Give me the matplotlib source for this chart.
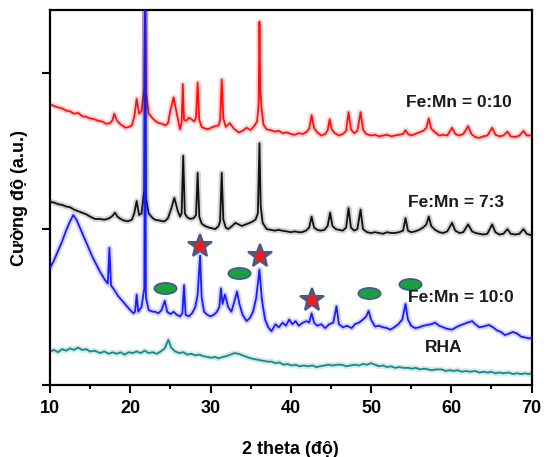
import numpy as np
import matplotlib
matplotlib.use("Agg")
import matplotlib.pyplot as plt
from matplotlib.path import Path
import matplotlib.transforms as mtrans

plt.rcParams['font.family'] = ['Liberation Sans', 'DejaVu Sans']
plt.rcParams['font.weight'] = 'bold'

# Fe:Mn = 0:10 (red)
red_x = [10.0, 10.5, 11.0, 11.5, 12.0, 12.5, 13.0, 13.5, 14.0, 14.5,
         15.0, 15.5, 16.0, 16.5, 17.0, 17.5, 17.8, 18.0, 18.3, 18.7,
         19.0, 19.4, 19.8, 20.2, 20.5, 20.8, 21.1, 21.4, 21.75, 21.85,
         21.95, 22.3, 22.8, 23.1, 23.5, 24.0, 24.4, 24.7, 25.0, 25.4,
         25.8, 26.2, 26.4, 26.55, 26.7, 27.0, 27.3, 27.6, 28.0, 28.2,
         28.4, 28.6, 28.9, 29.3, 29.7, 30.1, 30.6, 31.0, 31.2, 31.4,
         31.6, 31.9, 32.4, 32.9, 33.5, 34.0, 34.5, 35.0, 35.5, 35.8,
         36.0, 36.1, 36.2, 36.35, 36.6, 37.0, 37.5, 38.0, 38.5, 39.0,
         39.5, 40.0, 40.5, 41.0, 41.5, 42.0, 42.3, 42.6, 42.9, 43.3,
         43.8, 44.3, 44.6, 44.85, 45.1, 45.5, 46.0, 46.5, 46.9, 47.2,
         47.5, 47.9, 48.3, 48.7, 49.0, 49.4, 50.0, 50.5, 51.0, 51.5,
         52.0, 52.5, 53.0, 53.5, 54.0, 54.3, 54.6, 55.0, 55.5, 56.0,
         56.5, 56.9, 57.2, 57.5, 58.0, 58.5, 59.0, 59.5, 60.1, 60.5,
         61.0, 61.5, 62.1, 62.5, 63.0, 63.5, 64.0, 64.5, 65.1, 65.5,
         66.0, 66.5, 67.0, 67.4, 68.0, 68.5, 69.0, 69.4, 70.0]
red_y = [1.80, 1.79, 1.78, 1.775, 1.76, 1.755, 1.74, 1.745, 1.725, 1.72,
         1.71, 1.705, 1.695, 1.69, 1.675, 1.68, 1.70, 1.74, 1.70, 1.675,
         1.665, 1.65, 1.655, 1.665, 1.72, 1.835, 1.74, 1.76, 1.90, 2.60,
         1.88, 1.74, 1.71, 1.695, 1.68, 1.675, 1.665, 1.68, 1.76, 1.845,
         1.74, 1.64, 1.68, 1.93, 1.70, 1.695, 1.715, 1.705, 1.69, 1.72,
         1.94, 1.70, 1.655, 1.645, 1.64, 1.65, 1.66, 1.665, 1.70, 1.96,
         1.71, 1.655, 1.68, 1.645, 1.62, 1.63, 1.65, 1.635, 1.665, 1.69,
         1.80, 2.33, 1.90, 1.78, 1.67, 1.64, 1.635, 1.625, 1.63, 1.615,
         1.62, 1.61, 1.605, 1.615, 1.61, 1.625, 1.645, 1.73, 1.65, 1.62,
         1.60, 1.61, 1.635, 1.705, 1.64, 1.615, 1.60, 1.61, 1.63, 1.75,
         1.64, 1.615, 1.63, 1.75, 1.64, 1.61, 1.60, 1.605, 1.595, 1.60,
         1.605, 1.595, 1.60, 1.605, 1.61, 1.635, 1.61, 1.60, 1.61, 1.62,
         1.63, 1.65, 1.71, 1.645, 1.62, 1.60, 1.605, 1.60, 1.65, 1.61,
         1.60, 1.61, 1.66, 1.61, 1.59, 1.585, 1.595, 1.60, 1.65, 1.605,
         1.595, 1.60, 1.625, 1.595, 1.59, 1.60, 1.63, 1.60, 1.60]

# Fe:Mn = 7:3 (black)
black_x = [10.0, 10.5, 11.0, 11.5, 12.0, 12.5, 13.0, 13.5, 14.0, 14.5,
           15.0, 15.6, 16.2, 16.8, 17.4, 17.8, 18.1, 18.4, 18.8, 19.2,
           19.7, 20.2, 20.5, 20.8, 21.1, 21.4, 21.75, 21.85, 21.95, 22.3,
           22.8, 23.1, 23.6, 24.0, 24.3, 24.7, 25.1, 25.5, 25.9, 26.2,
           26.4, 26.6, 26.8, 27.1, 27.5, 27.9, 28.2, 28.4, 28.6, 28.9,
           29.3, 29.8, 30.2, 30.6, 31.0, 31.2, 31.4, 31.6, 31.9, 32.2,
           32.7, 33.1, 33.5, 33.9, 34.4, 34.9, 35.3, 35.6, 35.9, 36.1,
           36.25, 36.5, 37.0, 37.5, 38.0, 38.5, 38.9, 39.5, 40.0, 40.5,
           41.0, 41.4, 41.9, 42.3, 42.6, 42.9, 43.3, 43.7, 44.2, 44.6,
           44.9, 45.2, 45.6, 46.0, 46.5, 46.9, 47.2, 47.5, 47.9, 48.3,
           48.7, 49.0, 49.5, 50.0, 50.5, 51.0, 51.5, 52.0, 52.5, 53.0,
           53.5, 54.0, 54.3, 54.6, 55.0, 55.5, 56.0, 56.5, 56.9, 57.2,
           57.5, 58.0, 58.5, 59.0, 59.5, 60.1, 60.5, 61.0, 61.5, 62.1,
           62.6, 63.0, 63.5, 64.0, 64.5, 65.1, 65.5, 66.0, 66.5, 67.0,
           67.4, 68.0, 68.5, 69.0, 69.4, 70.0]
black_y = [1.175, 1.17, 1.16, 1.155, 1.145, 1.14, 1.125, 1.115, 1.105, 1.095,
           1.08, 1.065, 1.065, 1.06, 1.07, 1.085, 1.105, 1.08, 1.065, 1.055,
           1.05, 1.06, 1.10, 1.18, 1.09, 1.10, 1.25, 2.60, 1.20, 1.10,
           1.07, 1.06, 1.055, 1.05, 1.05, 1.07, 1.13, 1.20, 1.12, 1.08,
           1.10, 1.47, 1.10, 1.075, 1.065, 1.07, 1.09, 1.36, 1.08, 1.035,
           1.02, 1.01, 1.005, 1.0, 1.02, 1.05, 1.36, 1.06, 1.01, 1.0,
           1.02, 1.04, 1.03, 1.02, 1.03, 1.04, 1.05, 1.06, 1.10, 1.55,
           1.15, 1.04, 1.0, 0.995, 0.99, 0.995, 0.99, 0.985, 0.98, 0.985,
           0.98, 0.98, 0.99, 1.01, 1.08, 1.01, 0.995, 0.99, 0.995, 1.02,
           1.105, 1.02, 1.0, 0.995, 0.99, 1.01, 1.135, 1.01, 0.99, 1.0,
           1.125, 1.0, 0.98, 0.975, 0.98, 0.975, 0.97, 0.98, 0.975, 0.975,
           0.98, 0.99, 1.07, 0.99, 0.98, 0.985, 0.995, 1.01, 1.03, 1.08,
           1.02, 0.995, 0.98, 0.975, 0.985, 1.04, 0.99, 0.975, 0.98, 1.03,
           0.985, 0.975, 0.97, 0.965, 0.97, 1.03, 0.98, 0.965, 0.97, 1.0,
           0.97, 0.965, 0.97, 1.0, 0.97, 0.96]

# Fe:Mn = 10:0 (blue)
blue_x = [10.0, 10.5, 11.0, 11.5, 12.0, 12.5, 12.9, 13.3, 13.8, 14.3,
          14.8, 15.3, 15.8, 16.3, 16.9, 17.2, 17.4, 17.6, 18.0, 18.5,
          19.0, 19.5, 20.0, 20.4, 20.6, 20.8, 21.0, 21.4, 21.75, 21.85,
          21.95, 22.3, 22.8, 23.1, 23.5, 23.9, 24.3, 24.6, 25.0, 25.4,
          25.8, 26.2, 26.5, 26.7, 26.9, 27.3, 27.7, 28.1, 28.4, 28.7,
          28.9, 29.2, 29.6, 30.0, 30.4, 30.8, 31.1, 31.3, 31.5, 31.8,
          32.2, 32.6, 33.0, 33.3, 33.6, 34.0, 34.5, 34.9, 35.3, 35.7,
          36.1, 36.4, 36.8, 37.2, 37.6, 38.1, 38.5, 39.0, 39.4, 39.8,
          40.2, 40.6, 41.0, 41.5, 42.0, 42.3, 42.6, 42.9, 43.3, 43.8,
          44.3, 44.8, 45.3, 45.7, 46.0, 46.5, 47.0, 47.6, 48.0, 48.5,
          49.0, 49.4, 49.7, 50.0, 50.5, 51.0, 51.5, 52.0, 52.4, 52.9,
          53.4, 53.9, 54.3, 54.6, 55.0, 55.5, 56.0, 56.5, 57.0, 57.5,
          58.0, 58.5, 59.0, 59.5, 60.1, 60.6, 61.0, 61.5, 62.0, 62.6,
          63.0, 63.5, 64.0, 64.7, 65.2, 65.7, 66.2, 66.7, 67.2, 67.7,
          68.2, 68.7, 69.2, 69.6, 70.0]
blue_y = [0.75, 0.80, 0.86, 0.92, 0.99, 1.05, 1.09, 1.06, 1.00, 0.94,
          0.88, 0.82, 0.77, 0.72, 0.67, 0.65, 0.88, 0.64, 0.61, 0.57,
          0.54, 0.51, 0.48, 0.46, 0.47, 0.58, 0.47, 0.50, 0.62, 2.60,
          0.56, 0.48, 0.47, 0.47, 0.46, 0.48, 0.54, 0.47, 0.455, 0.47,
          0.45, 0.44, 0.46, 0.64, 0.45, 0.44, 0.46, 0.50, 0.58, 0.83,
          0.56, 0.47, 0.45, 0.44, 0.45, 0.47, 0.50, 0.62, 0.52, 0.58,
          0.50, 0.47, 0.54, 0.60, 0.52, 0.45, 0.41, 0.43, 0.47, 0.56,
          0.74, 0.55, 0.42, 0.37, 0.345, 0.39, 0.37, 0.40, 0.38, 0.42,
          0.39, 0.41, 0.38, 0.40, 0.41, 0.40, 0.46, 0.40, 0.38, 0.39,
          0.365, 0.39, 0.40, 0.505, 0.39, 0.37, 0.38, 0.365, 0.39, 0.40,
          0.42, 0.44, 0.475, 0.42, 0.375, 0.38, 0.37, 0.365, 0.355, 0.37,
          0.39, 0.42, 0.52, 0.42, 0.38, 0.365, 0.37, 0.38, 0.385, 0.39,
          0.40, 0.38, 0.37, 0.36, 0.355, 0.37, 0.38, 0.39, 0.40, 0.41,
          0.39, 0.37, 0.375, 0.385, 0.37, 0.35, 0.34, 0.32, 0.33, 0.34,
          0.33, 0.31, 0.305, 0.30, 0.30]

# RHA (teal)
rha_x = [10.0, 10.5, 11.0, 11.5, 12.0, 12.5, 13.0, 13.5, 14.0, 14.5,
         15.0, 15.6, 16.2, 16.8, 17.3, 17.8, 18.3, 18.8, 19.3, 19.8,
         20.3, 20.8, 21.3, 21.8, 22.3, 22.8, 23.3, 23.8, 24.3, 24.75,
         25.1, 25.6, 26.1, 26.6, 27.1, 27.6, 28.1, 28.6, 29.1, 29.6,
         30.1, 30.6, 31.0, 31.5, 32.0, 32.5, 33.0, 33.5, 34.0, 34.5,
         35.1, 35.6, 36.1, 36.6, 37.1, 37.6, 38.1, 38.6, 39.1, 39.6,
         40.1, 40.6, 41.1, 41.6, 42.2, 42.7, 43.2, 43.7, 44.2, 44.7,
         45.2, 45.8, 46.4, 46.9, 47.4, 48.0, 48.5, 49.0, 49.5, 50.0,
         50.5, 51.0, 51.5, 52.0, 52.5, 53.0, 53.5, 54.0, 54.6, 55.1,
         55.6, 56.1, 56.6, 57.1, 57.6, 58.1, 58.8, 59.3, 59.8, 60.3,
         60.8, 61.3, 61.8, 62.3, 63.0, 63.5, 64.0, 64.5, 65.0, 65.5,
         66.0, 66.5, 67.2, 67.7, 68.2, 68.7, 69.2, 69.6, 70.0]
rha_y = [0.215, 0.225, 0.21, 0.23, 0.22, 0.235, 0.225, 0.24, 0.225, 0.23,
         0.215, 0.22, 0.205, 0.215, 0.20, 0.21, 0.20, 0.21, 0.195, 0.21,
         0.205, 0.215, 0.205, 0.22, 0.205, 0.21, 0.20, 0.215, 0.235, 0.29,
         0.24, 0.215, 0.205, 0.21, 0.195, 0.20, 0.19, 0.195, 0.185, 0.18,
         0.175, 0.18, 0.17, 0.18, 0.185, 0.195, 0.205, 0.20, 0.19, 0.18,
         0.17, 0.165, 0.16, 0.155, 0.15, 0.15, 0.14, 0.145, 0.13, 0.135,
         0.125, 0.13, 0.12, 0.125, 0.12, 0.125, 0.115, 0.12, 0.125, 0.13,
         0.125, 0.13, 0.13, 0.12, 0.125, 0.13, 0.125, 0.135, 0.13, 0.14,
         0.13, 0.12, 0.125, 0.115, 0.12, 0.11, 0.115, 0.11, 0.11, 0.105,
         0.11, 0.10, 0.105, 0.10, 0.095, 0.10, 0.10, 0.09, 0.095, 0.09,
         0.095, 0.085, 0.09, 0.085, 0.09, 0.08, 0.085, 0.08, 0.085, 0.075,
         0.08, 0.075, 0.08, 0.07, 0.075, 0.07, 0.075, 0.07, 0.075]

# phase markers
star_x = [28.7, 36.2, 42.6]
star_y = [0.89, 0.83, 0.545]
oval_x = [24.3, 33.5, 49.8, 54.8]
oval_y = [0.62, 0.72, 0.59, 0.645]

labels = ["Fe:Mn = 0:10", "Fe:Mn = 7:3", "Fe:Mn = 10:0", "RHA"]

fig = plt.figure(figsize=(5.49, 4.57), dpi=100)
ax = fig.add_axes([50/549, 1-385/457, 481.5/549, 375/457])

series = [(rha_x, rha_y, '#168a88', 1),
          (red_x, red_y, '#ff1010', 2),
          (black_x, black_y, '#111111', 3),
          (blue_x, blue_y, '#1a1aff', 4)]
for xs, ys, c, z in series:
    ax.plot(xs, ys, color=c, lw=4.2, alpha=0.18, zorder=z)
    ax.plot(xs, ys, color=c, lw=1.3, zorder=z + 0.5)

ax.plot(star_x, star_y, ls='none', marker='*', ms=18, mfc='#ee1c1c',
        mec='#3d5f8f', mew=1.5, zorder=6)
oval = Path.unit_circle().transformed(mtrans.Affine2D().scale(1, 0.5))
ax.plot(oval_x, oval_y, ls='none', marker=oval, ms=16, mfc='#1e9f3e',
        mec='#3d5f8f', mew=1.3, zorder=6)

ax.text(54.3, 1.81, labels[0], fontsize=12.5, fontweight='bold', va='center', color='#1a1a1a', zorder=7)
ax.text(54.6, 1.17, labels[1], fontsize=12.5, fontweight='bold', va='center', color='#1a1a1a', zorder=7)
ax.text(54.6, 0.56, labels[2], fontsize=12.5, fontweight='bold', va='center', color='#1a1a1a', zorder=7)
ax.text(59.0, 0.24, labels[3], fontsize=12.5, fontweight='bold', va='center', ha='center', color='#1a1a1a', zorder=7)

ax.set_xlim(10, 70)
ax.set_ylim(0, 2.405)
ax.set_xticks(np.arange(10, 71, 10))
ax.set_xticks(np.arange(15, 70, 10), minor=True)
ax.set_yticks([0, 1, 2])
ax.set_yticklabels([])
ax.tick_params(axis='x', which='major', direction='out', length=6, width=1.5, pad=5, labelsize=13)
ax.tick_params(axis='x', which='minor', direction='out', length=3, width=1.5)
ax.tick_params(axis='y', direction='out', length=6, width=1.5)
for lab in ax.get_xticklabels():
    lab.set_fontweight('bold')
for s in ax.spines.values():
    s.set_linewidth(1.6)

ax.set_xlabel('2 theta (độ)', fontsize=13, fontweight='bold')
ax.xaxis.set_label_coords(0.5, -0.15)
ax.set_ylabel('Cường độ (a.u.)', fontsize=13, fontweight='bold')
ax.yaxis.set_label_coords(-0.045, 0.5)

fig.savefig('out.png', dpi=100)
